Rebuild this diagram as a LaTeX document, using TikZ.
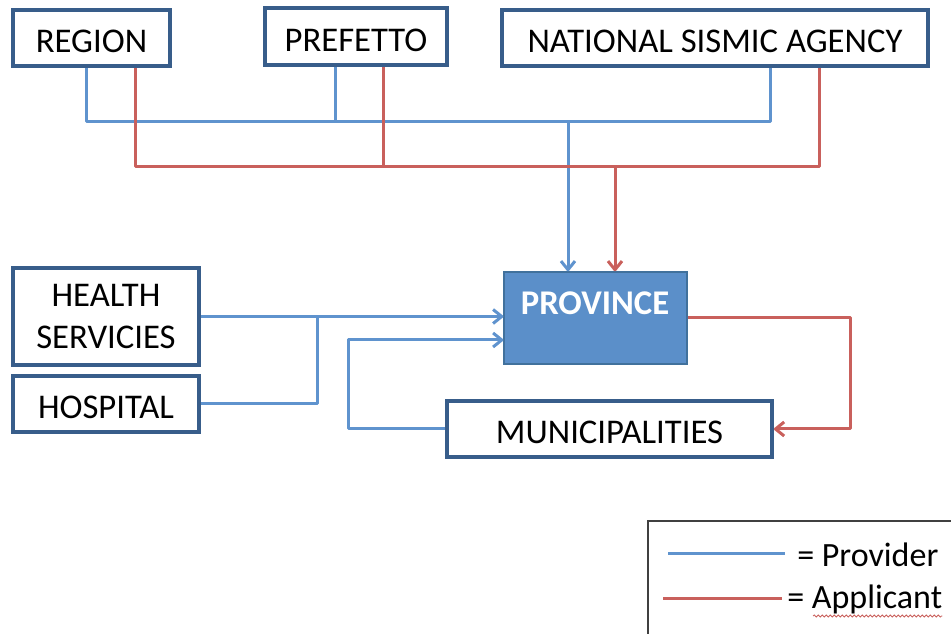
\documentclass[tikz,border=0pt]{standalone}
\usepackage{fontspec}
\setmainfont{Carlito}
\usetikzlibrary{arrows.meta,decorations.pathmorphing}
\definecolor{boxblue}{HTML}{385D8A}
\definecolor{provfill}{HTML}{5B8FC9}
\definecolor{provedge}{HTML}{41719C}
\definecolor{provblue}{HTML}{5F93CE}
\definecolor{applred}{HTML}{C9605C}
\definecolor{legendgray}{HTML}{404040}
\def\pxu{0.75pt}
\tikzset{
  box/.style={draw=boxblue, line width=4*\pxu, fill=white, inner sep=0pt,
    font=\fontsize{26}{30}\selectfont, text=black},
  oneline/.style={text height=22.5pt, text depth=0pt},
  provline/.style={draw=provblue, line width=3*\pxu, line join=round},
  applline/.style={draw=applred, line width=3*\pxu, line join=round},
  tip/.style={-{Straight Barb[length=6.5pt,width=10.5pt,line join=round]}},
  legendtext/.style={font=\fontsize{25.5}{28}\selectfont, anchor=west, inner sep=0pt}
}
\begin{document}
\begin{tikzpicture}[x=0.75pt,y=-0.75pt]
\useasboundingbox (0,0) rectangle (951,634);
\clip (0,0) rectangle (951,634);

% organisations
\node[box, oneline, minimum width=157*\pxu, minimum height=56*\pxu] (region) at (91.5,38) {REGION};
\node[box, oneline, minimum width=182*\pxu, minimum height=57*\pxu] (pref) at (356,36.5) {PREFETTO};
\node[box, oneline, minimum width=426*\pxu, minimum height=56*\pxu] (nsa) at (715,38) {NATIONAL SISMIC AGENCY};
\node[box, align=center, text depth=-6pt, font=\fontsize{26}{31}\selectfont,
      minimum width=186*\pxu, minimum height=97*\pxu] (health) at (106,316.5) {HEALTH\\SERVICIES};
\node[box, oneline, minimum width=186*\pxu, minimum height=56*\pxu] (hosp) at (106,404) {HOSPITAL};
\node[box, oneline, minimum width=325*\pxu, minimum height=56*\pxu] (muni) at (609.5,429) {MUNICIPALITIES};
\node[draw=provedge, fill=provfill, line width=1.5*\pxu, minimum width=183*\pxu,
      minimum height=92*\pxu, inner sep=0pt] (prov) at (595.5,318) {};
\node[font=\fontsize{26}{30}\selectfont\bfseries, text=white, inner sep=0pt] (provlabel) at (595,303) {PROVINCE};

% drop points under the top boxes
\coordinate (regb) at ([xshift=-5.5*\pxu]region.south);
\coordinate (regr) at ([xshift=43.5*\pxu]region.south);
\coordinate (prefb) at ([xshift=-21*\pxu]pref.south);
\coordinate (prefr) at ([xshift=27*\pxu]pref.south);
\coordinate (nsab) at ([xshift=55*\pxu]nsa.south);
\coordinate (nsar) at ([xshift=104*\pxu]nsa.south);

% provider bus
\coordinate (bwest) at (86,122);
\coordinate (bjoin) at (568,122);
\draw[provline] (regb) -- (bwest) -| (nsab);
\draw[provline] (prefb) -- (prefb |- bwest);
\draw[provline, tip] (bjoin) -- (bjoin |- prov.north);

% applicant bus
\coordinate (rwest) at (135,167);
\coordinate (rjoin) at (615,167);
\draw[applline] (regr) -- (rwest) -| (nsar);
\draw[applline] (prefr) -- (prefr |- rwest);
\draw[applline, tip] (rjoin) -- (rjoin |- prov.north);

% health services and hospital
\coordinate (hjoin) at ([xshift=116*\pxu]health.east);
\draw[provline, tip] (health.east) -- (health.east -| prov.west);
\draw[provline] (hosp.east) -| (hjoin);

% municipalities <-> province
\draw[provline, tip] (muni.west) -- ++(-97,0) |- ([yshift=-22*\pxu]prov.west);
\draw[applline, tip] (prov.east) -- ++(163,0) |- (muni.east);

% legend
\draw[draw=legendgray, line width=1.5*\pxu] (648,521) rectangle (970,650);
\coordinate (lpa) at (668,554);
\coordinate (lpb) at (785,554);
\coordinate (laa) at (663,599);
\coordinate (lab) at (782,599);
\draw[provline] (lpa) -- (lpb);
\draw[applline] (laa) -- (lab);
\node[legendtext] (lprov) at (797,555) {= Provider};
\node[legendtext] (lappl) at (787,599) {= Applicant};
\draw[applred, line width=0.8*\pxu, decorate, decoration={snake, amplitude=1*\pxu, segment length=4*\pxu}]
  ([xshift=26*\pxu, yshift=-17*\pxu]lappl.west) -- ([yshift=-17*\pxu]lappl.east);
\end{tikzpicture}
\end{document}
